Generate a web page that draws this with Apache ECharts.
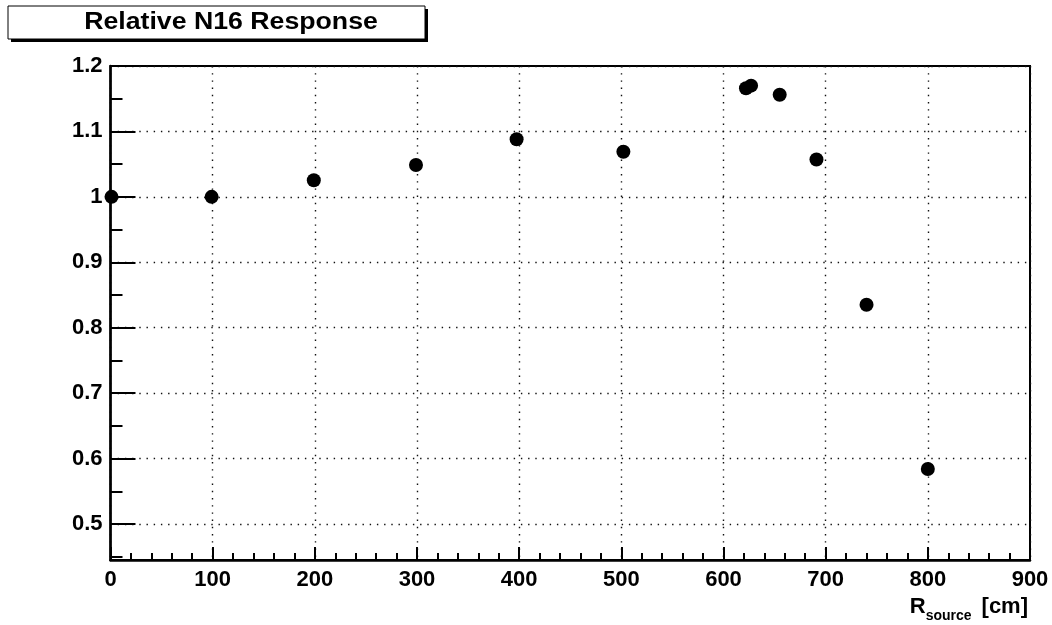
<!DOCTYPE html>
<html>
<head>
<meta charset="utf-8">
<script src="https://cdn.jsdelivr.net/npm/echarts@6/dist/echarts.min.js"></script>
<style>
html,body{margin:0;padding:0;background:#fff;}
#chart{width:1052px;height:625px;}
</style>
</head>
<body>
<div id="chart"></div>
<script>
const titleText = 'Relative N16 Response';
const rSource = [1, 99, 199, 299, 397.5, 502, 622, 627, 655, 691, 740, 800];
const response = [1.0, 1.0, 1.0255, 1.0486, 1.088, 1.069, 1.166, 1.170, 1.156, 1.057, 0.835, 0.584];
const xMin = 0, xMax = 900, xStep = 100;
const yMin = 0.445, yMax = 1.2;
const yMajorTicks = [0.5, 0.6, 0.7, 0.8, 0.9, 1.0, 1.1, 1.2];
const yMinorTicks = [0.45, 0.5, 0.55, 0.6, 0.65, 0.7, 0.75, 0.8, 0.85, 0.9, 0.95, 1.0, 1.05, 1.1, 1.15, 1.2];

const font = '"Liberation Sans", Arial, Helvetica, sans-serif';
const chart = echarts.init(document.getElementById('chart'));
const points = rSource.map((r, i) => [r, response[i]]);
const gridLine = {show: true, lineStyle: {color: '#111', width: 1.4, type: [1.4, 5.8]}};

chart.setOption({
  animation: false,
  backgroundColor: '#fff',
  grid: {left: 110.5, right: 22, top: 66, bottom: 65, show: true,
         borderColor: '#000', borderWidth: 2, backgroundColor: 'transparent'},
  xAxis: {
    type: 'value', min: xMin, max: xMax, interval: xStep,
    axisLine: {show: true, onZero: false, lineStyle: {color: '#000', width: 2.5}},
    axisTick: {show: true, inside: true, length: 13, lineStyle: {color: '#000', width: 2}},
    minorTick: {show: true, splitNumber: 5, length: 7, lineStyle: {color: '#000', width: 2}},
    axisLabel: {color: '#000', fontFamily: font, fontWeight: 'bold', fontSize: 22, margin: 9},
    splitLine: gridLine
  },
  yAxis: [{
    type: 'value', min: yMin, max: yMax,
    axisLine: {show: true, onZero: false, lineStyle: {color: '#000', width: 2.5}},
    axisTick: {show: true, inside: true, length: 25, customValues: yMajorTicks,
      lineStyle: {color: '#000', width: 2}},
    axisLabel: {color: '#000', fontFamily: font, fontWeight: 'bold', fontSize: 22, margin: 8,
      customValues: yMajorTicks,
      formatter: v => String(Math.round(v * 10) / 10)},
    splitLine: gridLine
  }, {
    type: 'value', min: yMin, max: yMax, position: 'left',
    axisLine: {show: false},
    axisTick: {show: true, inside: true, length: 12, customValues: yMinorTicks,
      lineStyle: {color: '#000', width: 2}},
    axisLabel: {show: false, customValues: yMinorTicks},
    splitLine: {show: false}
  }],
  series: [{
    type: 'scatter', yAxisIndex: 0, data: points, symbol: 'circle', symbolSize: 14,
    itemStyle: {color: '#000', opacity: 1}
  }],
  graphic: [
    {type: 'rect', shape: {x: 11, y: 9, width: 417, height: 33}, style: {fill: '#000'}},
    {type: 'rect', shape: {x: 8, y: 6, width: 417, height: 33}, style: {fill: '#fff', stroke: '#000', lineWidth: 1}},
    {type: 'text', x: 231, y: 23, scaleX: 1.16, originX: 0, style: {text: titleText, fontFamily: font, fontWeight: 'bold',
      fontSize: 23, fill: '#000', align: 'center', verticalAlign: 'middle'}},
    {type: 'text', x: 1028, y: 607, style: {
      text: '{r|R}{s|source}{c|[cm]}', align: 'right', verticalAlign: 'middle',
      rich: {
        r: {fontFamily: font, fontWeight: 'bold', fontSize: 22, fill: '#000', verticalAlign: 'bottom'},
        c: {fontFamily: font, fontWeight: 'bold', fontSize: 22, fill: '#000', verticalAlign: 'bottom', padding: [0, 0, 0, 10]},
        s: {fontFamily: font, fontWeight: 'bold', fontSize: 14, fill: '#000', verticalAlign: 'bottom', padding: [0, 0, -5, 0]}
      }}}
  ]
});
</script>
</body>
</html>
